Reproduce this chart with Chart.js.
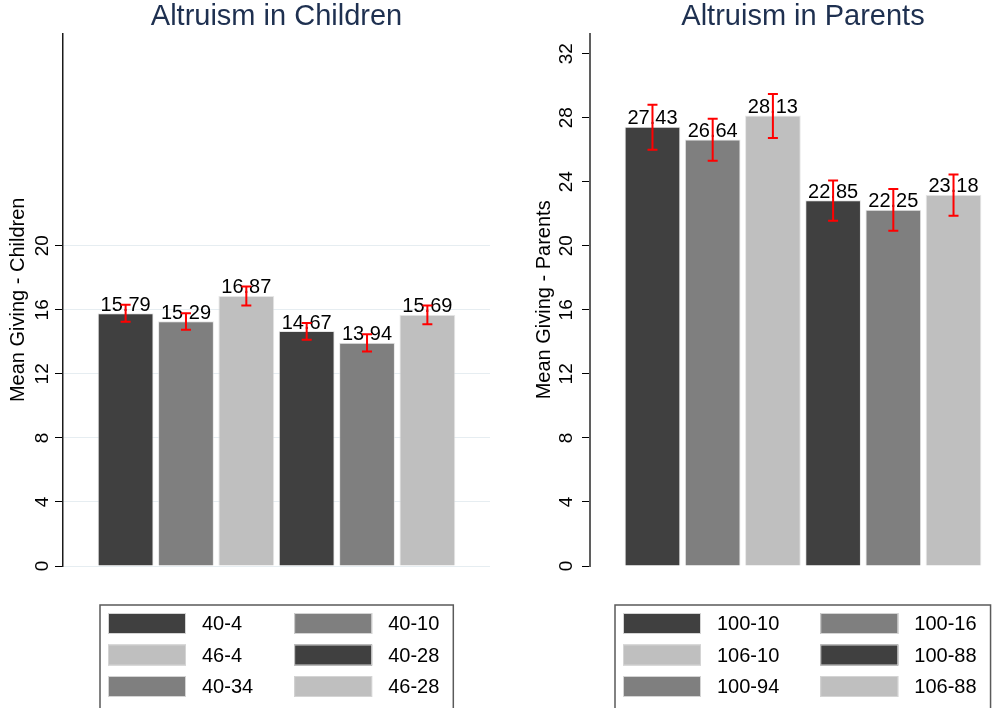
<!DOCTYPE html>
<html>
<head>
<meta charset="utf-8">
<script src="https://cdn.jsdelivr.net/npm/chart.js@4.4.1/dist/chart.umd.min.js"></script>
<style>
  html, body { margin: 0; padding: 0; background: #fff; overflow: hidden; width: 1008px; height: 708px; position: relative; }
  canvas { position: absolute; top: 0; }
  #kids { left: 0; }
  #parents { left: 520px; }
</style>
</head>
<body>
<canvas id="kids" width="500" height="708"></canvas>
<canvas id="parents" width="496" height="708"></canvas>
<script>
// children panel
const childGroups = ['40-4', '40-10', '46-4', '40-28', '40-34', '46-28'];
const childMeans = [15.79, 15.29, 16.87, 14.67, 13.94, 15.69];
const childLow = [15.25, 14.75, 16.27, 14.13, 13.39, 15.10];
const childHigh = [16.31, 15.79, 17.46, 15.17, 14.48, 16.27];
const childTicks = [0, 4, 8, 12, 16, 20];

// parents panel
const parentGroups = ['100-10', '100-16', '106-10', '100-88', '100-94', '106-88'];
const parentMeans = [27.43, 26.64, 28.13, 22.85, 22.25, 23.18];
const parentLow = [26.00, 25.31, 26.73, 21.56, 20.94, 21.88];
const parentHigh = [28.81, 27.94, 29.48, 24.08, 23.54, 24.46];
const parentTicks = [0, 4, 8, 12, 16, 20, 24, 28, 32];

const shades = ['#404040', '#7f7f7f', '#bfbfbf', '#404040', '#7f7f7f', '#bfbfbf'];
const FONT = '"Liberation Sans", Arial, sans-serif';

// value text above each bar
const barLabels = {
  id: 'barLabels',
  afterDatasetsDraw(chart) {
    const ctx = chart.ctx;
    ctx.save();
    ctx.font = '20px ' + FONT;
    ctx.fillStyle = '#000';
    ctx.textAlign = 'center';
    ctx.textBaseline = 'alphabetic';
    chart.data.datasets.forEach((ds, i) => {
      const bar = chart.getDatasetMeta(i).data[0];
      ctx.fillText(ds.data[0].toFixed(2), bar.x, bar.y - 2.5);
    });
    ctx.restore();
  }
};

// red capped error bars, drawn over the labels
const errorBars = {
  id: 'errorBars',
  afterDatasetsDraw(chart) {
    const ctx = chart.ctx;
    const y = chart.scales.y;
    ctx.save();
    ctx.strokeStyle = '#ff0000';
    ctx.lineWidth = 2;
    chart.data.datasets.forEach((ds, i) => {
      const bar = chart.getDatasetMeta(i).data[0];
      const yl = y.getPixelForValue(ds.errLow);
      const yh = y.getPixelForValue(ds.errHigh);
      ctx.beginPath();
      ctx.moveTo(bar.x, yl); ctx.lineTo(bar.x, yh);
      ctx.moveTo(bar.x - 5, yl); ctx.lineTo(bar.x + 5, yl);
      ctx.moveTo(bar.x - 5, yh); ctx.lineTo(bar.x + 5, yh);
      ctx.stroke();
    });
    ctx.restore();
  }
};

// boxed two-column legend under the plot
const boxLegend = {
  id: 'boxLegend',
  afterDraw(chart) {
    const ctx = chart.ctx, area = chart.chartArea;
    const ds = chart.data.datasets;
    const sw = 78, sh = 21, pad = 8, gap = 16, colGap = 41, rowH = 31.5, top = 605;
    ctx.save();
    ctx.font = '20px ' + FONT;
    const col1 = ds.filter((d, i) => i % 2 === 0);
    const col2 = ds.filter((d, i) => i % 2 === 1);
    const w1 = Math.max(...col1.map(d => ctx.measureText(d.label).width));
    const w2 = Math.max(...col2.map(d => ctx.measureText(d.label).width));
    const boxW = pad + sw + gap + w1 + colGap + sw + gap + w2 + 14;
    const left = Math.round((area.left + area.right) / 2 - boxW / 2);
    ctx.strokeStyle = '#5a5a5a';
    ctx.lineWidth = 1.5;
    ctx.strokeRect(left, top, boxW, 106);
    const x2 = left + pad + sw + gap + w1 + colGap;
    ds.forEach((d, i) => {
      const sx = i % 2 === 0 ? left + pad : x2;
      const sy = top + 8 + Math.floor(i / 2) * rowH;
      ctx.fillStyle = d.backgroundColor;
      ctx.fillRect(sx, sy, sw, sh);
      ctx.strokeStyle = '#d4d4d4';
      ctx.lineWidth = 1;
      ctx.strokeRect(sx + 0.5, sy + 0.5, sw - 1, sh - 1);
      ctx.fillStyle = '#000';
      ctx.textAlign = 'left';
      ctx.textBaseline = 'middle';
      ctx.fillText(d.label, sx + sw + gap, sy + sh / 2 + 1);
    });
    ctx.restore();
  }
};

function makePanel(id, title, yTitle, groups, means, low, high, ticks, look) {
  const datasets = groups.map((g, i) => ({
    label: g,
    data: [means[i]],
    errLow: low[i],
    errHigh: high[i],
    backgroundColor: shades[i],
    borderColor: 'rgba(220,220,220,0.7)',
    borderWidth: 1,
    categoryPercentage: 0.848,
    barPercentage: 0.925
  }));
  return new Chart(document.getElementById(id), {
    type: 'bar',
    data: { labels: [''], datasets: datasets },
    options: {
      responsive: false,
      animation: false,
      devicePixelRatio: 1,
      layout: { padding: { left: 0, right: look.padRight, top: 0, bottom: 142 } },
      plugins: {
        legend: { display: false },
        tooltip: { enabled: false },
        title: {
          display: true, text: title, fullSize: false, color: '#1e3050',
          font: { family: FONT, size: 29, weight: 'normal', lineHeight: 1.16 },
          padding: 0
        }
      },
      scales: {
        x: { display: false },
        y: {
          min: 0, max: 33.25,
          afterBuildTicks: s => { s.ticks = ticks.map(v => ({ value: v })); },
          afterFit: s => { s.width = look.axisW; },
          grid: {
            drawOnChartArea: look.gridLines, color: '#e6edf1', lineWidth: 1,
            tickLength: 8, tickColor: '#000', tickWidth: 1
          },
          border: { color: look.axisColor, width: look.axisWidth },
          ticks: {
            minRotation: 90, maxRotation: 90, crossAlign: 'center',
            padding: look.tickPad, color: '#000',
            font: { family: FONT, size: 19 }
          },
          title: {
            display: true, text: yTitle, color: '#000',
            font: { family: FONT, size: 20 },
            padding: { top: look.titlePad, bottom: 0 }
          }
        }
      }
    },
    plugins: [barLabels, errorBars, boxLegend]
  });
}

makePanel('kids', 'Altruism in Children', 'Mean Giving - Children',
  childGroups, childMeans, childLow, childHigh, childTicks,
  { padRight: 10, axisW: 63, gridLines: true, axisColor: '#1a1a1a', axisWidth: 1.5, tickPad: 2, titlePad: 6 });

makePanel('parents', 'Altruism in Parents', 'Mean Giving - Parents',
  parentGroups, parentMeans, parentLow, parentHigh, parentTicks,
  { padRight: 0, axisW: 70, gridLines: false, axisColor: '#5f5f5f', axisWidth: 2, tickPad: 5, titlePad: 12 });
</script>
</body>
</html>
